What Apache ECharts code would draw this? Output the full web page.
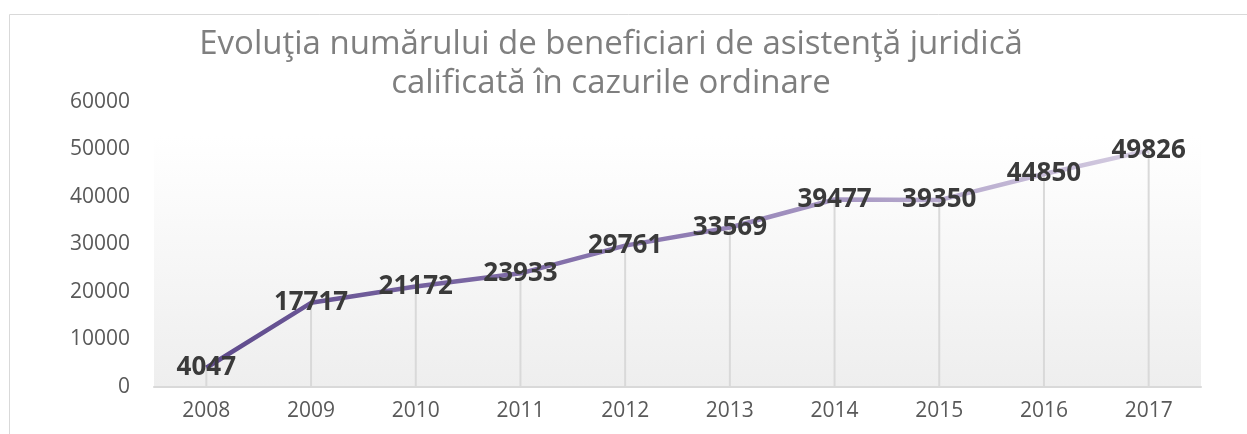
<!DOCTYPE html>
<html>
<head>
<meta charset="utf-8">
<script src="https://cdn.jsdelivr.net/npm/echarts@6/dist/echarts.min.js"></script>
<style>
  html, body { margin: 0; padding: 0; background: #fff; }
  #chart { width: 1247px; height: 434px; }
</style>
</head>
<body>
<div id="chart"></div>
<script>
// date
var years = ['2008', '2009', '2010', '2011', '2012', '2013', '2014', '2015', '2016', '2017'];
var beneficiari = [4047, 17717, 21172, 23933, 29761, 33569, 39477, 39350, 44850, 49826];
var yTicks = [0, 10000, 20000, 30000, 40000, 50000, 60000];

var font = '"Open Sans", "Noto Sans", sans-serif';

var myChart = echarts.init(document.getElementById('chart'));

var options = {
  animation: false,
  title: {
    text: 'Evoluţia numărului de beneficiari de asistenţă juridică\ncalificată în cazurile ordinare',
    left: 611,
    top: 25,
    padding: 0,
    textAlign: 'center',
    textStyle: {
      fontFamily: font,
      fontSize: 33,
      fontWeight: 'normal',
      color: '#7f7f7f',
      lineHeight: 39
    }
  },
  graphic: [{
    type: 'rect',
    left: 7,
    top: 12,
    shape: { width: 1400, height: 600 },
    style: { fill: 'none', stroke: '#d9d9d9', lineWidth: 1 },
    silent: true,
    z: -10
  }],
  grid: {
    left: 154,
    right: 46,
    top: 102,
    bottom: 47,
    show: true,
    borderWidth: 0,
    backgroundColor: new echarts.graphic.LinearGradient(0, 0, 0, 1, [
      { offset: 0, color: '#ffffff' },
      { offset: 0.12, color: '#ffffff' },
      { offset: 1, color: '#eeeeee' }
    ])
  },
  xAxis: {
    type: 'category',
    data: years,
    boundaryGap: true,
    axisTick: { show: false },
    axisLine: { lineStyle: { color: '#d9d9d9', width: 2 } },
    axisLabel: { fontFamily: font, fontSize: 21, color: '#595959', margin: 14 }
  },
  yAxis: {
    type: 'value',
    min: yTicks[0],
    max: yTicks[yTicks.length - 1],
    interval: 10000,
    axisLine: { show: false },
    axisTick: { show: false },
    splitLine: { show: false },
    axisLabel: {
      fontFamily: font,
      fontSize: 21,
      color: '#595959',
      margin: 24,
      formatter: function (v) { return String(v); }
    }
  },
  series: [
    {
      // liniile verticale de la punct la axa
      type: 'bar',
      data: beneficiari,
      barWidth: 2,
      itemStyle: { color: '#d9d9d9' },
      silent: true,
      z: 1
    },
    {
      type: 'line',
      data: beneficiari,
      symbol: 'circle',
      symbolSize: 2,
      itemStyle: { color: 'rgba(0,0,0,0)' },
      lineStyle: {
        width: 4.5,
        color: new echarts.graphic.LinearGradient(0, 0, 1, 0, [
          { offset: 0, color: '#5e4a8c' },
          { offset: 0.5, color: '#8f7cb3' },
          { offset: 1, color: '#d6cee2' }
        ])
      },
      label: {
        show: true,
        position: 'inside',
        fontFamily: font,
        fontSize: 26,
        fontWeight: 'bold',
        color: '#3a3a3a'
      },
      z: 3
    }
  ]
};

myChart.setOption(options);
</script>
</body>
</html>
